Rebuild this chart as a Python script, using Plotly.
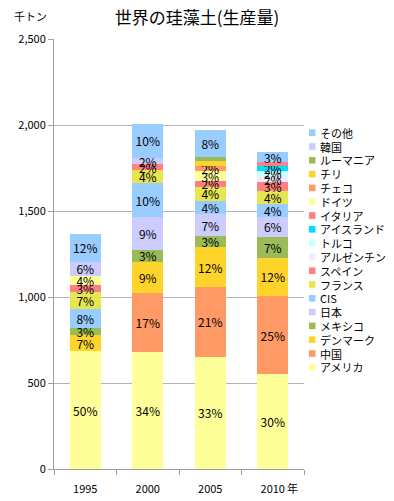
import plotly.graph_objects as go

years = ["1995", "2000", "2005", "2010"]

# stacked bottom -> top
series_names = ["アメリカ", "中国", "デンマーク", "メキシコ", "日本", "CIS", "フランス",
                "スペイン", "アルゼンチン", "トルコ", "アイスランド", "イタリア", "ドイツ",
                "チェコ", "チリ", "ルーマニア", "韓国", "その他"]

usa       = [685, 680, 652, 550]
china     = [0, 345, 407, 455]
denmark   = [95, 180, 229, 224]
mexico    = [42, 68, 64, 122]
japan     = [0, 190, 130, 112]
cis       = [110, 200, 77, 77]
france    = [98, 75, 83, 74]
spain     = [38, 35, 32, 54]
argentina = [0, 0, 0, 35]
turkey    = [0, 0, 0, 32]
iceland   = [0, 0, 0, 29]
italy     = [0, 0, 0, 21]
germany   = [55, 0, 56, 0]
czech     = [0, 0, 31, 0]
chile     = [0, 0, 27, 0]
romania   = [0, 0, 27, 0]
korea     = [80, 35, 0, 0]
others    = [165, 200, 155, 56]

series_values = [usa, china, denmark, mexico, japan, cis, france, spain, argentina,
                 turkey, iceland, italy, germany, czech, chile, romania, korea, others]

colors = ["#FFFF99", "#FF9966", "#FFD42A", "#9BBB59", "#CCCCFF", "#99CCFF", "#E6E650",
          "#FF8080", "#EEEEFF", "#CCFFFF", "#00DDFF", "#FF8080", "#FFFF99",
          "#FF9966", "#FFD42A", "#9BBB59", "#CCCCFF", "#99CCFF"]

y_ticks = [0, 500, 1000, 1500, 2000, 2500]
y_ticklabels = ["0", "500", "1,000", "1,500", "2,000", "2,500"]

totals = [sum(s[i] for s in series_values) for i in range(len(years))]

FONT = "Noto Sans CJK JP"
fig = go.Figure()
for name, vals, col in zip(series_names, series_values, colors):
    texts = []
    for i, v in enumerate(vals):
        p = int(v / totals[i] * 100 + 0.5) if v else 0
        texts.append(f"{p}%" if p >= 2 else "")
    fig.add_trace(go.Bar(
        x=years, y=[v if v else None for v in vals], name=name,
        marker=dict(color=col, line=dict(width=0)),
        text=texts, textposition="inside", insidetextanchor="middle",
        textangle=0, constraintext="none",
        insidetextfont=dict(family=FONT, size=12, color="black"),
        showlegend=False,
    ))

# manual compact legend (top: その他 ... bottom: アメリカ)
PL, PR, PT, PB = 54, 304, 39, 469
pw, ph = PR - PL, PB - PT
annotations = []
shapes = []
legend_order = list(range(len(series_names)))[::-1]
for k, idx in enumerate(legend_order):
    yc = 132.7 + k * 13.8
    yp = (PB - yc) / ph
    shapes.append(dict(type="rect", xref="paper", yref="paper",
                       x0=(309 - PL) / pw, x1=(315.5 - PL) / pw,
                       y0=yp - 3.3 / ph, y1=yp + 3.3 / ph,
                       fillcolor=colors[idx], line=dict(width=0)))
    annotations.append(dict(xref="paper", yref="paper", x=(318 - PL) / pw, y=yp,
                            xanchor="left", yanchor="middle", showarrow=False,
                            text=series_names[idx],
                            font=dict(family=FONT, size=11, color="black")))

annotations.append(dict(xref="paper", yref="paper", x=(12 - PL) / pw, y=1 + (PT - 16) / ph,
                        xanchor="left", yanchor="middle", showarrow=False, text="千トン",
                        font=dict(family=FONT, size=11, color="black")))
annotations.append(dict(xref="paper", yref="paper", x=(292 - PL) / pw, y=-(488 - PB) / ph,
                        xanchor="center", yanchor="middle", showarrow=False, text="年",
                        font=dict(family=FONT, size=11, color="black")))

fig.update_layout(
    width=394, height=501, autosize=False,
    margin=dict(l=PL, r=394 - PR, t=PT, b=501 - PB),
    paper_bgcolor="white", plot_bgcolor="white",
    barmode="stack", bargap=0.5,
    title=dict(text="世界の珪藻土(生産量)", x=0.5, xref="container", xanchor="center",
               y=1 - 18 / 501, yref="container", yanchor="middle",
               font=dict(family=FONT, size=17, color="black")),
    font=dict(family=FONT, size=11, color="black"),
    annotations=annotations, shapes=shapes,
    xaxis=dict(type="category", showline=True, linecolor="#A0A0A0", linewidth=1,
               ticks="outside", tickson="boundaries", ticklen=5, tickcolor="#A0A0A0",
               ticklabelstandoff=10, automargin=False,
               showgrid=False, tickfont=dict(family=FONT, size=11, color="black")),
    yaxis=dict(range=[0, 2500], tickvals=y_ticks, ticktext=y_ticklabels,
               showline=True, linecolor="#A0A0A0", linewidth=1, automargin=False,
               ticks="outside", ticklen=5, tickcolor="#A0A0A0",
               showgrid=True, gridcolor="#B4B4B4", gridwidth=1, zeroline=False,
               tickfont=dict(family=FONT, size=11, color="black")),
)

fig.write_html("out.html", config={"displayModeBar": False},
               post_script="document.body.style.margin='0px';document.body.style.overflow='hidden';")
